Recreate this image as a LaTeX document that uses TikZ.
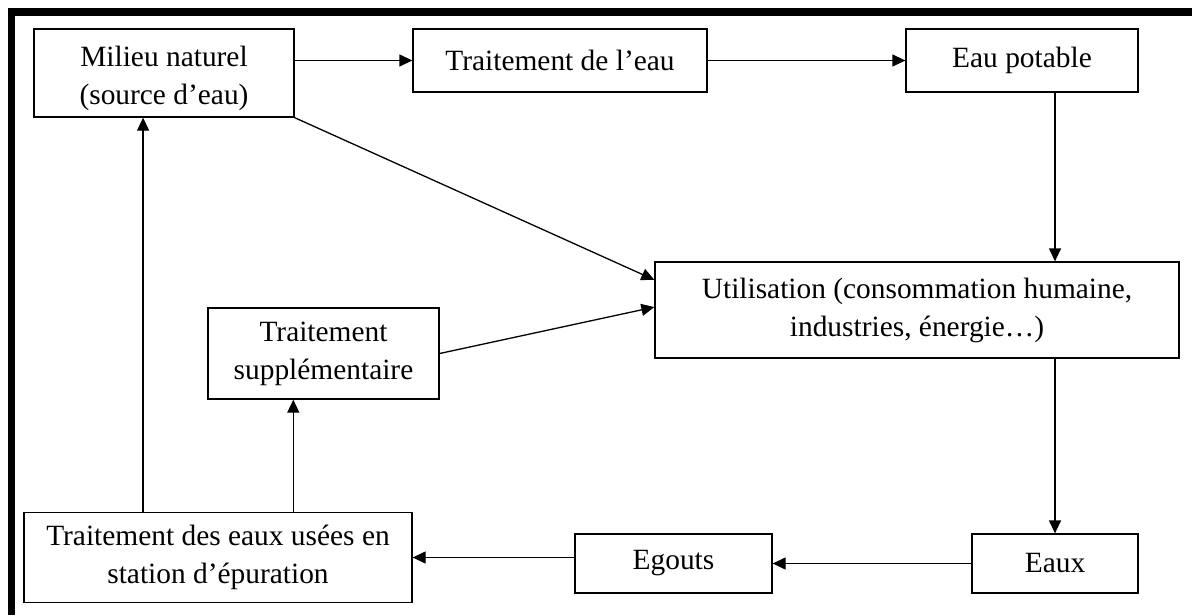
\documentclass[tikz,border=0pt]{standalone}
\usepackage{fontspec}
\setmainfont{Liberation Serif}
\usetikzlibrary{arrows.meta,calc}

\begin{document}
\begin{tikzpicture}[
 x=0.5pt, y=-0.5pt, >={Triangle[length=6.5pt,width=6pt]},
 font=\fontsize{14.7}{19}\selectfont,
 box/.style={draw, line width=0.65pt, align=center, inner sep=0pt},
 every edge/.style={draw, ->, line width=0.65pt}]
\useasboundingbox (0,0) rectangle (1192,615);
\fill (8,8) rectangle (1192,16);
\fill (8,8) rectangle (15,615);
\node[box, minimum width=130pt, minimum height=44pt] (nat) at (164,73) {\rule{0pt}{16pt}Milieu naturel\\(source d’eau)};
\node[box, minimum width=147pt, minimum height=31.5pt] (trait) at (560,60.5) {Traitement de l’eau};
\node[box, minimum width=116pt, minimum height=31.5pt] (pot) at (1022,60.5) {Eau potable};
\node[box, minimum width=262pt, minimum height=48pt] (util) at (917,310) {Utilisation (consommation humaine,\\industries, énergie…)};
\node[box, minimum width=115.5pt, minimum height=45.5pt] (supp) at (323.5,353.5) {Traitement\\supplémentaire};
\node[box, minimum width=194pt, minimum height=45pt] (wwt) at (218,557.5) {Traitement des eaux usées en\\station d’épuration};
\node[box, minimum width=98.5pt, minimum height=29.5pt] (egouts) at (673.5,563.5) {Egouts};
\node[box, minimum width=83pt, minimum height=29.5pt] (eaux) at (1055,563.5) {Eaux};
\coordinate (utilA) at ($(util.north west)!0.19!(util.south west)$);
\coordinate (utilB) at ($(util.north west)!0.47!(util.south west)$);
\coordinate (natS) at ($(nat.south west)!0.42!(nat.south east)$);
\coordinate (suppS) at ($(supp.south west)!0.37!(supp.south east)$);
\draw (trait.west -| nat.east) edge (trait.west)
 (trait.east) edge (pot.west)
 (pot.south -| eaux.north) edge (util.north -| eaux.north)
 (nat.south east) edge (utilA)
 (supp.east) edge (utilB)
 (util.south -| eaux.north) edge (eaux.north)
 (eaux.west) edge (egouts.east)
 (egouts.west |- wwt.east) edge (wwt.east)
 (wwt.north -| natS) edge (natS)
 (wwt.north -| suppS) edge (suppS);
\end{tikzpicture}
\end{document}
